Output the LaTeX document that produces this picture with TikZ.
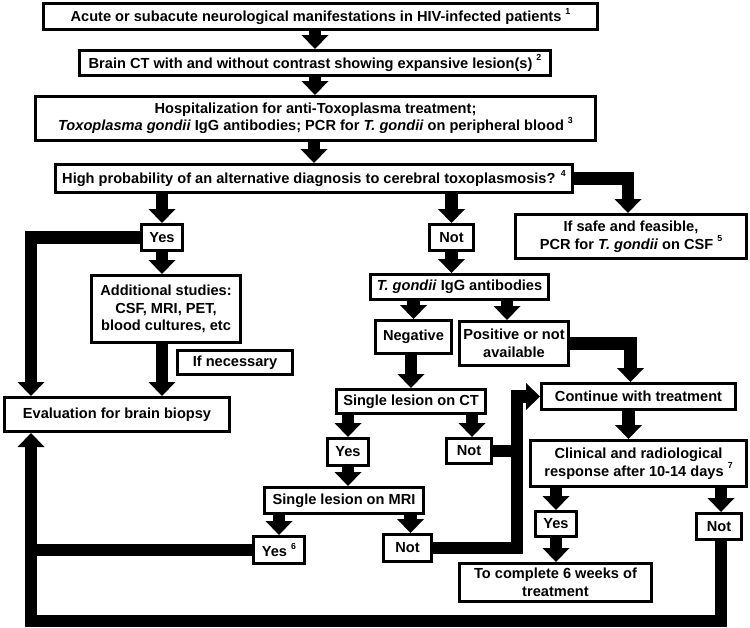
\documentclass[tikz,border=0pt]{standalone}
\usepackage{fontspec}
\setmainfont{Liberation Sans}
\usetikzlibrary{arrows.meta,calc}
\newcommand\supn[1]{\raisebox{0.5em}{\fontsize{8.8}{8.8}\selectfont #1}}
\begin{document}
\begin{tikzpicture}[x=1pt,y=-1pt,
  box/.style={draw, line width=2.6pt, fill=white, align=center, inner sep=1pt,
              font=\bfseries\fontsize{14.6}{17.5}\selectfont},
  bx/.style n args={2}{box, minimum width={#1pt-2.6pt}, minimum height={#2pt-2.6pt}},
  blk/.style={line width=12.5pt, -{Triangle[width=27pt,length=14pt,line width=0pt]}},
  lnk/.style={line width=12pt}]
\useasboundingbox[fill=white] (0,0) rectangle (750,627);

\node[bx={557}{29}] (n1) at (320.5,16.5) {Acute or subacute neurological manifestations in HIV-infected patients \supn{1}};
\node[bx={474}{28}] (n2) at (315,63) {Brain CT with and without contrast showing expansive lesion(s) \supn{2}};
\node[bx={563}{47}] (n3) at (315.5,118.5) {Hospitalization for anti-Toxoplasma treatment;\\ \textit{Toxoplasma gondii} IgG antibodies; PCR for \textit{T. gondii} on peripheral blood \supn{3}};
\node[bx={520}{31}] (n4) at (314,178.5) {High probability of an alternative diagnosis to cerebral toxoplasmosis? \supn{4}};
\node[bx={234}{47}] (safe) at (631,236.5) {If safe and feasible,\\ PCR for \textit{T. gondii} on CSF \supn{5}};
\node[bx={44}{29}] (yes1) at (162,237.5) {Yes};
\node[bx={47}{29}] (not1) at (451.5,237.5) {Not};
\node[bx={152}{70}] (add) at (166,309) {Additional studies:\\ CSF, MRI, PET,\\ blood cultures, etc};
\node[bx={118}{27}] (ifnec) at (235,362.5) {If necessary};
\node[bx={228}{37}] (eval) at (117,414.5) {Evaluation for brain biopsy};
\node[bx={181}{28}] (tg) at (459.5,287) {\textit{T. gondii} IgG antibodies};
\node[bx={79}{36}] (neg) at (413.5,337) {Negative};
\node[bx={112}{47}] (pos) at (514,343.5) {Positive or not\\ available};
\node[bx={152}{27}] (ct) at (411,401.5) {Single lesion on CT};
\node[bx={48}{28}] (notct) at (469,451) {Not};
\node[bx={44}{30}] (yesct) at (348,452) {Yes};
\node[bx={162}{29}] (mri) at (344,500.5) {Single lesion on MRI};
\node[bx={54}{30}] (yes6) at (279,550) {Yes \supn{6}};
\node[bx={51}{30}] (notmri) at (407.5,548) {Not};
\node[bx={197}{29}] (cont) at (638.5,396.5) {Continue with treatment};
\node[bx={219}{49}] (clin) at (638.5,463.5) {Clinical and radiological\\ response after 10-14 days \supn{7}};
\node[bx={44}{28}] (yesc) at (556,524) {Yes};
\node[bx={195}{41}] (comp) at (555.5,582.5) {To complete 6 weeks of\\ treatment};
\node[bx={48}{29}] (notc) at (719,526.5) {Not};

\coordinate (lx) at (31,0);
\coordinate (vx) at (517,0);
\coordinate (bl) at (31,621);

\draw[blk] (n2.north |- n1.south) -- (n2.north);
\draw[blk] (n2.south) -- (n2.south |- n3.north);
\draw[blk] (n4.north |- n3.south) -- (n4.north);
\draw[blk] (yes1.north |- n4.south) -- (yes1.north);
\draw[blk] (not1.north |- n4.south) -- (not1.north);
\draw[blk] (n4.east) -| ([xshift=-3pt]safe.north);
\draw[blk] (yes1.west) -| (lx |- eval.north);
\draw[blk] (yes1.south) -- (yes1.south |- add.north);
\draw[blk] (yes1.south |- add.south) -- (yes1.south |- eval.north);
\draw[blk] (not1.south) -- (not1.south |- tg.north);
\draw[blk] (neg.north |- tg.south) -- (neg.north);
\draw[blk] ([xshift=-7pt]pos.north |- tg.south) -- ([xshift=-7pt]pos.north);
\draw[blk] (ct.north |- neg.south) -- (ct.north);
\draw[blk] (pos.east) -| ([xshift=-8pt]cont.north);
\draw[blk] (yesct.north |- ct.south) -- (yesct.north);
\draw[blk] ([xshift=3pt]notct.north |- ct.south) -- ([xshift=3pt]notct.north);
\draw[blk] (yesct.south) -- (yesct.south |- mri.north);
\draw[blk] (yes6.north |- mri.south) -- (yes6.north);
\draw[blk] ([xshift=3pt]notmri.north |- mri.south) -- ([xshift=3pt]notmri.north);
\draw[blk] (notmri.east) -| (vx |- cont.west) -- (cont.west);
\draw[lnk] (notct.east) -- (notct.east -| vx);
\draw[blk] ([xshift=-10pt]cont.south) -- ([xshift=-10pt]cont.south |- clin.north);
\draw[blk] (yesc.north |- clin.south) -- (yesc.north);
\draw[blk] ([xshift=2pt]notc.north |- clin.south) -- ([xshift=2pt]notc.north);
\draw[blk] (yesc.south) -- (yesc.south |- comp.north);
\draw[blk] ([xshift=2pt]notc.south) |- (bl) -- (lx |- eval.south);
\draw[lnk] (yes6.west) -- (yes6.west -| lx);
\end{tikzpicture}
\end{document}
